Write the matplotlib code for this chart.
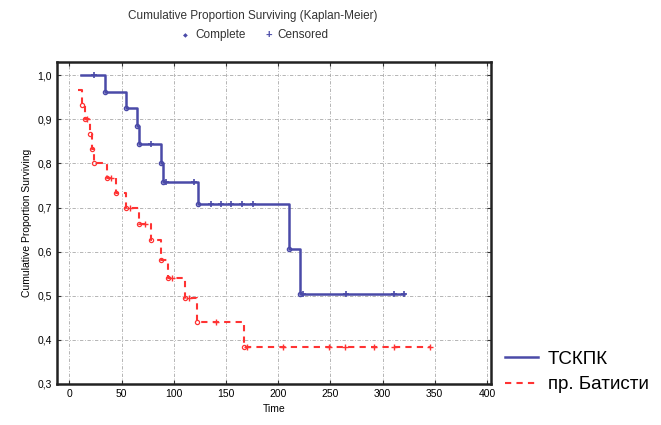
import numpy as np
import matplotlib
matplotlib.use("Agg")
import matplotlib.pyplot as plt

plt.rcParams['font.family'] = ['Liberation Sans Narrow', 'Liberation Sans', 'DejaVu Sans']

# ТСКПК: event times and survival after each step
blue_t = [11, 34, 54, 65, 67, 88, 90, 123, 210, 221, 321]
blue_s = [1.0, 0.962, 0.925, 0.885, 0.845, 0.80, 0.757, 0.707, 0.606, 0.505, 0.505]
blue_cens = [24, 78, 93, 119, 136, 145, 155, 165, 176, 224, 265, 311, 321]

# пр. Батисти
red_t = [8, 12, 15, 20, 22, 24, 36, 45, 54, 67, 78, 88, 94, 111, 122, 167, 345]
red_s = [0.967, 0.933, 0.900, 0.867, 0.833, 0.800, 0.767, 0.733, 0.700,
         0.663, 0.626, 0.582, 0.540, 0.495, 0.440, 0.385, 0.385]
red_cens = [17, 40, 58, 72, 98, 115, 140, 170, 205, 249, 264, 292, 311, 345]

blue_c = '#4a4aa8'
red_c = '#ff3333'


def surv_at(t, times, surv):
    idx = np.searchsorted(times, t, side='right') - 1
    return np.array(surv)[np.clip(idx, 0, len(surv) - 1)]


fig = plt.figure(figsize=(6.61, 4.25), dpi=100)
ax = fig.add_axes([0.086, 0.0965, 0.657, 0.7575])

ax.step(blue_t, blue_s, where='post', color=blue_c, lw=1.8, label='ТСКПК')
ax.plot(blue_t[1:-1], blue_s[1:-1], 'o', ms=3, mfc='none', mec=blue_c, mew=1)
ax.plot(blue_cens, surv_at(blue_cens, blue_t, blue_s), '+', ms=5, color=blue_c, mew=1.2)

ax.step(red_t, red_s, where='post', color=red_c, lw=1.5, ls=(0, (3, 2.5)), label='пр. Батисти')
ax.plot(red_t[1:-1], red_s[1:-1], 'o', ms=3, mfc='none', mec=red_c, mew=0.9)
ax.plot(red_cens, surv_at(red_cens, red_t, red_s), '+', ms=4, color=red_c, mew=1)

ax.set_xlim(-12, 404)
ax.set_ylim(0.3, 1.03)
ax.set_xticks(range(0, 401, 50))
yt = [0.3, 0.4, 0.5, 0.6, 0.7, 0.8, 0.9, 1.0]
ax.set_yticks(yt)
ax.set_yticklabels([f'{v:.1f}'.replace('.', ',') for v in yt])
ax.tick_params(direction='in', top=True, right=True, labelsize=7.5, length=3, color='#333333')
ax.grid(True, color='#aaaaaa', ls=(0, (4, 2, 1, 2)), lw=0.6)
for sp in ax.spines.values():
    sp.set_linewidth(1.8)
    sp.set_color('#222222')

ax.set_xlabel('Time', fontsize=7.5)
ax.set_ylabel('Cumulative Proportion Surviving', fontsize=7.5)

fig.text(0.383, 0.962, 'Cumulative Proportion Surviving (Kaplan-Meier)', fontsize=8.5,
         ha='center', va='center', color='#333333')
fig.text(0.281, 0.917, '\u25c6', fontsize=4.5, color=blue_c, ha='center', va='center')
fig.text(0.295, 0.917, 'Complete', fontsize=8.5, ha='left', va='center', color='#333333')
fig.text(0.407, 0.917, '+', fontsize=8, color=blue_c, ha='center', va='center', weight='bold')
fig.text(0.420, 0.917, 'Censored', fontsize=8.5, ha='left', va='center', color='#333333')

fig.legend(handles=ax.get_lines()[0:1] + ax.get_lines()[3:4], loc='lower left',
           bbox_to_anchor=(0.738, 0.035), frameon=False, handlelength=1.75, handletextpad=0.55,
           prop={'family': ['Liberation Sans', 'DejaVu Sans'], 'size': 13.5}, labelspacing=0.45)

fig.savefig('out.png', dpi=100)
